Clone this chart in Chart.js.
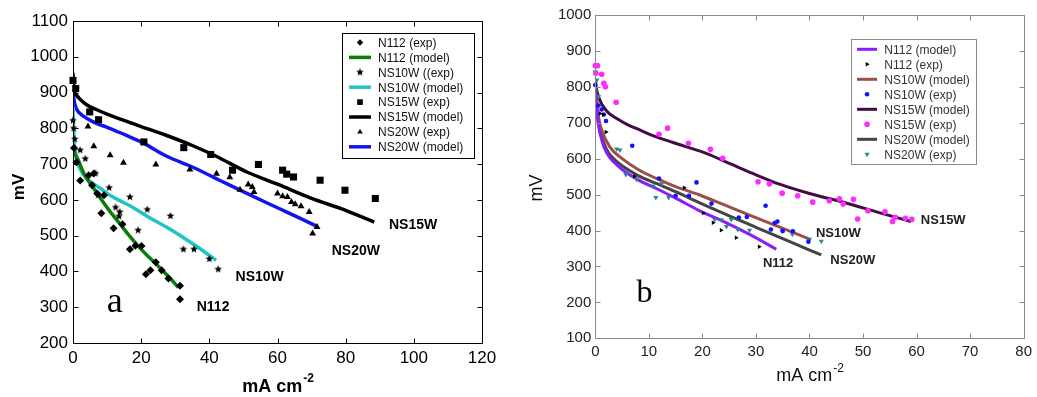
<!DOCTYPE html>
<html>
<head>
<meta charset="utf-8">
<script src="https://cdn.jsdelivr.net/npm/chart.js@4"></script>
<style>
html, body { margin: 0; padding: 0; background: #fff; }
#chartA { position: absolute; left: 0; top: 0; }
#chartB { position: absolute; left: 515px; top: 0; }
</style>
</head>
<body>
<canvas id="chartA" width="515" height="397"></canvas>
<canvas id="chartB" width="522" height="397"></canvas>
<script>
// ---- panel a: tick labels ----
const xTicksA = [0, 20, 40, 60, 80, 100, 120];
const yTicksA = [200, 300, 400, 500, 600, 700, 800, 900, 1000, 1100];

// panel a series, [mA cm-2, mV]
const n112ExpA = [[0.3,745],[1,705],[2.1,654],[4.6,669],[5.6,641],[6.1,674],[7.1,618],[8.3,563],[9.1,613],[11.9,521],[14.5,532],[16.7,462],[18.3,472],[20.1,471],[21.4,392],[22.7,403],[24.3,426],[26,403],[28,380],[31.4,360],[31.4,322]];
const n112ModelA = [[0,752],[0.5,732],[1.5,712],[3,678],[4,660],[5.5,640],[7.8,608],[10.5,572],[13.7,534],[16.5,500],[19.6,466],[22.5,438],[25.5,410],[28.5,381],[30.9,355]];
const ns10wExpA = [[0,822],[0.2,800],[0.5,770],[2.1,739],[3.6,715],[6.6,674],[7.4,613],[10.6,634],[12.5,579],[13.5,554],[13.7,566],[16.7,608],[19.1,515],[21.8,573],[28.6,555],[32.4,462],[35.5,462],[40,435],[42.6,406]];
const ns10wModelA = [[0,860],[0.1,820],[0.3,770],[0.6,738],[1,715],[2,688],[4,660],[7.8,634],[10.5,615],[13.7,598],[17.6,579],[22,553],[27.4,524],[32,497],[37.2,464],[42,431]];
const ns15wExpA = [[0,934],[0.8,911],[4.9,846],[7.5,824],[20.8,762],[32.5,746],[40.4,727],[46.8,683],[54.4,699],[61.5,683],[62.7,672],[64.7,664],[72.5,655],[79.8,627],[88.7,604]];
const ns15wModelA = [[0,955],[0.2,912],[0.6,900],[1,893],[2,882],[4,866],[7,852],[10,840],[15,822],[20,805],[27.5,780],[35,752],[42,722],[51,678],[60,644],[70,604],[80,571],[88.4,538]];
const ns20wExpA = [[4.4,805],[6.1,750],[10.9,725],[14.8,704],[24.3,699],[34.3,685],[42.1,673],[46,663],[49,628],[51.4,643],[52.6,636],[53.1,622],[60,618],[61.5,610],[62.9,608],[64.1,594],[65.2,588],[66.9,582],[69.3,566],[71.6,524],[70.3,506]];
const ns20wModelA = [[0,912],[0.3,880],[1,855],[2,842],[4,828],[7,813],[10,803],[15,783],[20,762],[27.5,722],[35,692],[43,655],[51,618],[60,578],[67,547],[71.6,526]];

// ---- panel b: tick labels ----
const xTicksB = [0, 10, 20, 30, 40, 50, 60, 70, 80];
const yTicksB = [100, 200, 300, 400, 500, 600, 700, 800, 900, 1000];

const n112ModelB = [[0,790],[0.3,732],[0.6,692],[1.2,652],[2.1,617],[3.5,590],[5.2,568],[8,541],[11.4,517],[15,490],[19.5,455],[24,425],[29,388],[33.8,348]];
const n112ExpB = [[0.9,726],[1.5,722],[2,674],[7.3,551],[16.6,519],[20.2,449],[22,422],[23.5,401],[26.3,380],[30.6,355]];
const ns10wModelB = [[0,800],[0.3,760],[0.6,717],[1.2,680],[2.7,633],[5.2,598],[8,570],[11.4,545],[15,522],[19.5,499],[24,472],[28.8,443],[34,412],[39.9,377]];
const ns10wExpB = [[0,805],[0.6,748],[1.2,737],[1.6,723],[2,705],[6.9,636],[11.9,545],[15,497],[17.5,497],[18.9,534],[21.7,475],[26.8,436],[28.3,438],[31.8,469],[32.8,403],[33.5,421],[34,425],[35,399],[36.9,398],[39.8,369]];
const ns15wModelB = [[0,820],[0.2,795],[0.5,778],[1,758],[1.5,745],[2.5,727],[4,712],[6,695],[8.3,680],[11,663],[14.5,645],[20.7,615],[25.5,584],[29.4,559],[34.4,529],[40,503],[47,476],[53,450],[59,425]];
const ns15wExpB = [[0,859],[0.4,859],[0.1,838],[1.2,835],[1.6,810],[1.9,800],[3.9,757],[11.9,668],[13.5,685],[17.4,643],[21.5,626],[23.8,601],[30.4,536],[32.5,530],[34.9,504],[37.8,497],[40.6,479],[43.7,483],[45.6,488],[46.3,474],[48.2,487],[49,432],[50.9,455],[54.1,452],[55.5,425],[56,437],[57.9,434],[59.1,431]];
const ns20wModelB = [[0,795],[0.3,742],[0.6,702],[1.2,662],[2.1,626],[3.5,599],[5.2,578],[8,553],[11.4,531],[15,508],[19.5,477],[25,441],[30,409],[36,371],[42.2,332]];
const ns20wExpB = [[0,842],[0.3,819],[0.6,773],[4,627],[4.6,624],[5.7,556],[7.7,543],[10.8,524],[11.3,492],[12.4,530],[13.7,492],[22.3,431],[23.5,430],[24.5,411],[25.4,431],[26.6,403],[28.8,401],[34.9,399],[36.8,390],[40,376],[42.2,370]];

const FONT = "Arial, 'Liberation Sans', Helvetica, sans-serif";
const SERIF = "'Times New Roman', 'Liberation Serif', serif";

function pts(list) {
    return list.map(p => ({ x: p[0], y: p[1] }));
}

// small filled five point star used as marker
function starImage(size, color) {
    const c = document.createElement('canvas');
    c.width = c.height = size;
    const g = c.getContext('2d');
    const R = size / 2, r = R * 0.45;
    g.beginPath();
    for (let i = 0; i < 10; i++) {
        const a = -Math.PI / 2 + i * Math.PI / 5;
        const rad = i % 2 ? r : R;
        g.lineTo(R + rad * Math.cos(a), R + rad * Math.sin(a));
    }
    g.closePath();
    g.fillStyle = color;
    g.fill();
    return c;
}

function modelSet(label, data, color, width) {
    return {
        label, data: pts(data), showLine: true, borderColor: color, backgroundColor: color,
        borderWidth: width, pointRadius: 0, cubicInterpolationMode: 'monotone', order: 2
    };
}

function expSet(label, data, color, style, radius, rotation) {
    return {
        label, data: pts(data), showLine: false, pointStyle: style, pointRadius: radius,
        pointRotation: rotation || 0, backgroundColor: color, borderColor: color,
        borderWidth: 0, clip: false, order: 1
    };
}

// axis titles, curve names, legend box and the plot frame with inward ticks
function decorPlugin(c) {
    return {
        id: 'decor',
        afterDraw(chart) {
            const ctx = chart.ctx, a = chart.chartArea;
            const sx = chart.scales.x, sy = chart.scales.y;
            ctx.save();

            // x title with a raised "-2"
            const t = c.titles;
            ctx.fillStyle = t.color;
            ctx.textBaseline = 'alphabetic';
            ctx.font = t.mainFont;
            const w1 = ctx.measureText(t.xText).width;
            ctx.font = t.supFont;
            const w2 = ctx.measureText(t.xSup).width;
            const x0 = (a.left + a.right) / 2 - (w1 + w2) / 2;
            const yb = a.bottom + t.xOffset;
            ctx.font = t.mainFont;
            ctx.textAlign = 'left';
            ctx.fillText(t.xText, x0, yb);
            ctx.font = t.supFont;
            ctx.fillText(t.xSup, x0 + w1 + 1, yb - t.supRaise);
            ctx.save();
            ctx.translate(t.yX, t.yY);
            ctx.rotate(-Math.PI / 2);
            ctx.font = t.yFont;
            ctx.textAlign = 'center';
            ctx.fillText(t.yText, 0, 0);
            ctx.restore();

            // curve names and panel letter at data coordinates
            c.notes.forEach(m => {
                ctx.font = m.font;
                ctx.fillStyle = m.color || '#000';
                ctx.textAlign = 'left';
                ctx.textBaseline = m.baseline || 'middle';
                ctx.fillText(m.text, sx.getPixelForValue(m.x), sy.getPixelForValue(m.y));
            });

            // legend box
            const g = c.legend;
            const left = a.right - g.right, top = a.top + g.top;
            ctx.fillStyle = '#fff';
            ctx.fillRect(left, top, g.w, g.h);
            ctx.strokeStyle = g.border;
            ctx.lineWidth = 1;
            ctx.strokeRect(Math.round(left) + 0.5, Math.round(top) + 0.5, g.w, g.h);
            chart.data.datasets.forEach((ds, i) => {
                const cy = top + g.row0 + i * g.rowH;
                const cx = left + g.symX;
                if (ds.showLine) {
                    ctx.strokeStyle = ds.borderColor;
                    ctx.lineWidth = ds.borderWidth;
                    ctx.beginPath();
                    ctx.moveTo(cx - g.lineHalf, cy);
                    ctx.lineTo(cx + g.lineHalf, cy);
                    ctx.stroke();
                } else {
                    ctx.fillStyle = ds.backgroundColor;
                    ctx.strokeStyle = ds.borderColor;
                    Chart.helpers.drawPoint(ctx, {
                        pointStyle: ds.pointStyle, radius: ds.pointRadius * g.k,
                        rotation: ds.pointRotation, borderWidth: 0
                    }, cx, cy);
                }
                ctx.fillStyle = g.textColor;
                ctx.font = g.font;
                ctx.textAlign = 'left';
                ctx.textBaseline = 'middle';
                ctx.fillText(ds.label, left + g.textX, cy + 1);
            });

            // frame, drawn the same way as the legend border
            const L = Math.round(a.left) + 0.5, T = Math.round(a.top) + 0.5;
            const W = Math.round(a.right) - Math.round(a.left);
            const H = Math.round(a.bottom) - Math.round(a.top);
            ctx.strokeStyle = c.frameColor;
            ctx.lineWidth = 1;
            ctx.strokeRect(L, T, W, H);
            ctx.beginPath();
            c.xTicks.forEach(v => {
                const px = Math.round(sx.getPixelForValue(v)) + 0.5;
                ctx.moveTo(px, T + H); ctx.lineTo(px, T + H - 5);
                ctx.moveTo(px, T); ctx.lineTo(px, T + 5);
            });
            c.yTicks.forEach(v => {
                const py = Math.round(sy.getPixelForValue(v)) + 0.5;
                ctx.moveTo(L, py); ctx.lineTo(L + 5, py);
                ctx.moveTo(L + W, py); ctx.lineTo(L + W - 5, py);
            });
            ctx.stroke();
            ctx.restore();
        }
    };
}

function makeChart(id, c) {
    return new Chart(document.getElementById(id), {
        type: 'scatter',
        data: { datasets: c.datasets },
        plugins: [decorPlugin(c)],
        options: {
            responsive: false,
            animation: false,
            events: [],
            layout: { padding: { left: 0, right: c.padRight, top: c.padTop, bottom: 0 } },
            plugins: {
                legend: { display: false },
                tooltip: { enabled: false }
            },
            scales: {
                x: {
                    type: 'linear', min: c.xTicks[0], max: c.xTicks[c.xTicks.length - 1],
                    afterBuildTicks: s => { s.ticks = c.xTicks.map(v => ({ value: v })); },
                    afterFit: s => { s.height = c.xAxisH; },
                    grid: { display: false, drawTicks: false },
                    border: { display: false },
                    ticks: { font: { family: FONT, size: c.tickSize }, color: c.tickColor, padding: c.xPad, maxRotation: 0, callback: v => String(v) }
                },
                y: {
                    type: 'linear', min: c.yTicks[0], max: c.yTicks[c.yTicks.length - 1],
                    afterBuildTicks: s => { s.ticks = c.yTicks.map(v => ({ value: v })); },
                    afterFit: s => { s.width = c.yAxisW; },
                    grid: { display: false, drawTicks: false },
                    border: { display: false },
                    ticks: { font: { family: FONT, size: c.tickSize }, color: c.tickColor, padding: c.yPad, callback: v => String(v) }
                }
            }
        }
    });
}

const star = starImage(8, '#000');

makeChart('chartA', {
    datasets: [
        expSet('N112 (exp)', n112ExpA, '#000', 'rectRot', 4),
        modelSet('N112 (model)', n112ModelA, '#0b7d0b', 3.5),
        expSet('NS10W ((exp)', ns10wExpA, '#000', star, 4),
        modelSet('NS10W (model)', ns10wModelA, '#22c3c3', 3.5),
        expSet('NS15W (exp)', ns15wExpA, '#000', 'rect', 5),
        modelSet('NS15W (model)', ns15wModelA, '#000', 3.5),
        expSet('NS20W (exp)', ns20wExpA, '#000', 'triangle', 4),
        modelSet('NS20W (model)', ns20wModelA, '#1414f0', 3.5)
    ],
    xTicks: xTicksA, yTicks: yTicksA,
    padRight: 33, padTop: 21, xAxisH: 54, yAxisW: 73,
    tickSize: 17, tickColor: '#000', xPad: 5, yPad: 5,
    frameColor: '#000',
    legend: { right: 140, top: 12, w: 132, h: 125, row0: 9.5, rowH: 14.9, symX: 18, lineHalf: 11, textX: 36, k: 0.8, border: '#000', textColor: '#111', font: '12px ' + FONT },
    notes: [
        { text: 'NS15W', x: 92.7, y: 529, font: 'bold 14px ' + FONT },
        { text: 'NS20W', x: 75.9, y: 458, font: 'bold 14px ' + FONT },
        { text: 'NS10W', x: 47.7, y: 384, font: 'bold 14px ' + FONT },
        { text: 'N112', x: 36.3, y: 301, font: 'bold 14px ' + FONT },
        { text: 'a', x: 9.9, y: 287, font: '36px ' + SERIF, baseline: 'alphabetic' }
    ],
    titles: { color: '#000', xText: 'mA cm', xSup: '-2', mainFont: 'bold 18px ' + FONT, supFont: 'bold 12px ' + FONT, xOffset: 49, supRaise: 10, yText: 'mV', yFont: 'bold 17px ' + FONT, yX: 24, yY: 187 }
});

makeChart('chartB', {
    datasets: [
        modelSet('N112 (model)', n112ModelB, '#8a1cff', 3),
        expSet('N112 (exp)', n112ExpB, '#000', 'triangle', 2.6, 90),
        modelSet('NS10W (model)', ns10wModelB, '#9a4f47', 3),
        expSet('NS10W (exp)', ns10wExpB, '#1010ff', 'circle', 2.3),
        modelSet('NS15W (model)', ns15wModelB, '#420d42', 3),
        expSet('NS15W (exp)', ns15wExpB, '#ff2aff', 'circle', 2.8),
        modelSet('NS20W (model)', ns20wModelB, '#444444', 3),
        expSet('NS20W (exp)', ns20wExpB, '#2a8a8a', 'triangle', 3, 180)
    ],
    xTicks: xTicksB, yTicks: yTicksB,
    padRight: 12.7, padTop: 15, xAxisH: 58.7, yAxisW: 80.3,
    tickSize: 15, tickColor: '#222', xPad: 5, yPad: 4,
    frameColor: '#8a8a8a',
    legend: { right: 172.3, top: 24, w: 125, h: 125, row0: 10.3, rowH: 15, symX: 15.7, lineHalf: 10, textX: 33, k: 1, border: '#8a8a8a', textColor: '#333', font: '12px ' + FONT },
    notes: [
        { text: 'NS15W', x: 60.8, y: 427, font: 'bold 13px ' + FONT, color: '#222' },
        { text: 'NS10W', x: 41.2, y: 392, font: 'bold 13px ' + FONT, color: '#222' },
        { text: 'NS20W', x: 43.9, y: 316, font: 'bold 13px ' + FONT, color: '#222' },
        { text: 'N112', x: 31.3, y: 309, font: 'bold 13px ' + FONT, color: '#222' },
        { text: 'b', x: 7.7, y: 202, font: '32px ' + SERIF, baseline: 'alphabetic' }
    ],
    titles: { color: '#111', xText: 'mA cm', xSup: '-2', mainFont: '18px ' + FONT, supFont: '12px ' + FONT, xOffset: 43, supRaise: 9, yText: 'mV', yFont: '18px ' + FONT, yX: 27, yY: 188 }
});
</script>
</body>
</html>
